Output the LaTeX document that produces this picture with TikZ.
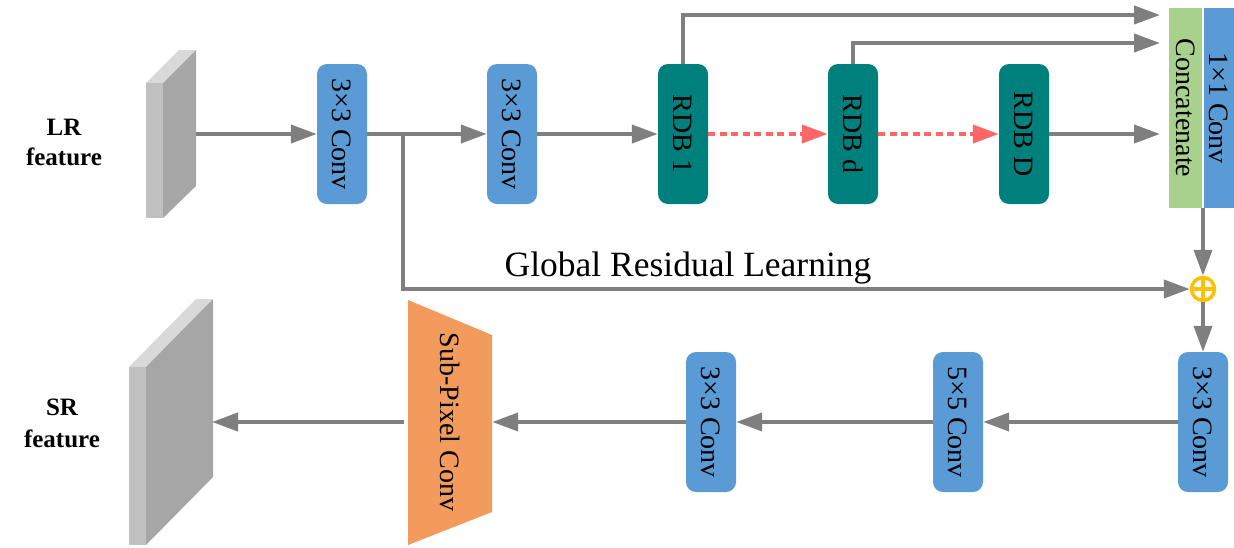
\documentclass[tikz,border=0pt]{standalone}
\usepackage{fontspec}
\setmainfont{Liberation Serif}
\usetikzlibrary{arrows.meta}
\definecolor{lblue}{HTML}{5B9BD5}
\definecolor{teal2}{HTML}{00807C}
\definecolor{lgreen}{HTML}{A9D18E}
\definecolor{lorange}{HTML}{F29B5C}
\definecolor{lgray}{HTML}{7F7F7F}
\definecolor{ared}{HTML}{FF6666}
\definecolor{ayel}{HTML}{FFC000}
\definecolor{slabtop}{HTML}{D9D9D9}
\definecolor{slabfront}{HTML}{C0C0C0}
\definecolor{slabside}{HTML}{A6A6A6}
\tikzset{
  conv/.style={rounded corners=10pt, fill=lblue, minimum width=50pt, minimum height=140pt, inner sep=0pt, font=\fontsize{28}{28}\selectfont},
  rdb/.style={conv, fill=teal2},
  flow/.style={draw=lgray, line width=4pt, -{Triangle[length=26pt,width=18pt]}},
  plain/.style={draw=lgray, line width=4pt},
  dflow/.style={draw=ared, line width=4pt, dash pattern=on 7pt off 4.5pt, -{Triangle[length=26pt,width=18pt]}},
  lbl/.style={font=\fontsize{25}{25}\selectfont\bfseries, anchor=base},
}
\newcommand{\rt}[1]{\rotatebox[origin=c]{-90}{#1}}
\begin{document}
\begin{tikzpicture}[x=1pt,y=-1pt]
\useasboundingbox (0,0) rectangle (1234,547);
% LR slab
\fill[slabtop] (146,83) -- (163,83) -- (196,50) -- (179,50) -- cycle;
\fill[slabfront] (146,83) rectangle (163,218);
\fill[slabside] (163,83) -- (196,50) -- (196,186) -- (163,218) -- cycle;
\coordinate (lr) at (196,134);
% SR slab
\fill[slabtop] (129,367) -- (146,367) -- (213,299) -- (196,299) -- cycle;
\fill[slabfront] (129,367) rectangle (146,545);
\fill[slabside] (146,367) -- (213,299) -- (213,477) -- (146,545) -- cycle;
\coordinate (sr) at (212,422);
% labels
\node[lbl] (lrt) at (64,135) {LR};
\node[lbl] (lrf) at (64,165) {feature};
\node[lbl] (srt) at (62,415) {SR};
\node[lbl] (srf) at (62,447) {feature};
% top row
\node[conv] (c1) at (342,134) {\rt{3×3 Conv}};
\node[conv] (c2) at (512,134) {\rt{3×3 Conv}};
\node[rdb] (r1) at (683,134) {\rt{RDB 1}};
\node[rdb] (rd) at (853,134) {\rt{RDB d}};
\node[rdb] (rD) at (1024,134) {\rt{RDB D}};
\node[fill=lgreen, minimum width=33pt, minimum height=200pt, inner sep=0pt, font=\fontsize{28}{28}\selectfont] (cat) at (1185.5,108) {\rt{Concatenate}};
\fill[lblue] (1204,8) rectangle (1234,208);
\node[minimum width=30pt, minimum height=200pt, inner sep=0pt, font=\fontsize{28}{28}\selectfont] (c11) at (1219,108) {\rt{1×1 Conv}};
\coordinate (c11b) at (1203,208);
% plus
\node[circle, draw=ayel, fill=white, line width=3.5pt, minimum size=23pt, inner sep=0pt] (plus) at (1203,289) {};
\draw[ayel, line width=3.5pt] (plus.north) -- (plus.south) (plus.west) -- (plus.east);
% bottom row
\node[conv] (b1) at (1203,422) {\rt{3×3 Conv}};
\node[conv] (b2) at (958,422) {\rt{5×5 Conv}};
\node[conv] (b3) at (711,422) {\rt{3×3 Conv}};
\fill[lorange] (408,300) -- (492,335) -- (492,512) -- (408,545) -- cycle;
\node[minimum width=84pt, minimum height=244pt, inner sep=0pt, font=\fontsize{28}{28}\selectfont] (sp) at (450,422) {\rt{Sub-Pixel Conv}};
% text
\node[font=\fontsize{35.5}{35.5}\selectfont, anchor=base] (grl) at (688,276) {Global Residual Learning};
% connectors
\coordinate (t1) at (1160,15);
\coordinate (t2) at (1160,43);
\coordinate (t3) at (1160,134);
\coordinate (br) at (403,134);
\draw[flow] (lr) -- (c1.west);
\draw[flow] (c1.east) -- (c2.west);
\draw[flow] (c2.east) -- (r1.west);
\draw[dflow] (r1.east) -- (rd.west);
\draw[dflow] (rd.east) -- (rD.west);
\draw[flow] (rD.east) -- (t3);
\draw[flow] (r1.north) |- (t1);
\draw[flow] (rd.north) |- (t2);
\draw[plain] (br) -- (403,290);
\draw[flow] (br) |- (plus.west);
\draw[flow] (c11b) -- (plus.north);
\draw[flow] (plus.south) -- (b1.north);
\draw[flow] (b1.west) -- (b2.east);
\draw[flow] (b2.west) -- (b3.east);
\draw[flow] (b3.west) -- (sp.east);
\draw[flow] ([xshift=-4pt]sp.west) -- (sr);
\end{tikzpicture}
\end{document}
